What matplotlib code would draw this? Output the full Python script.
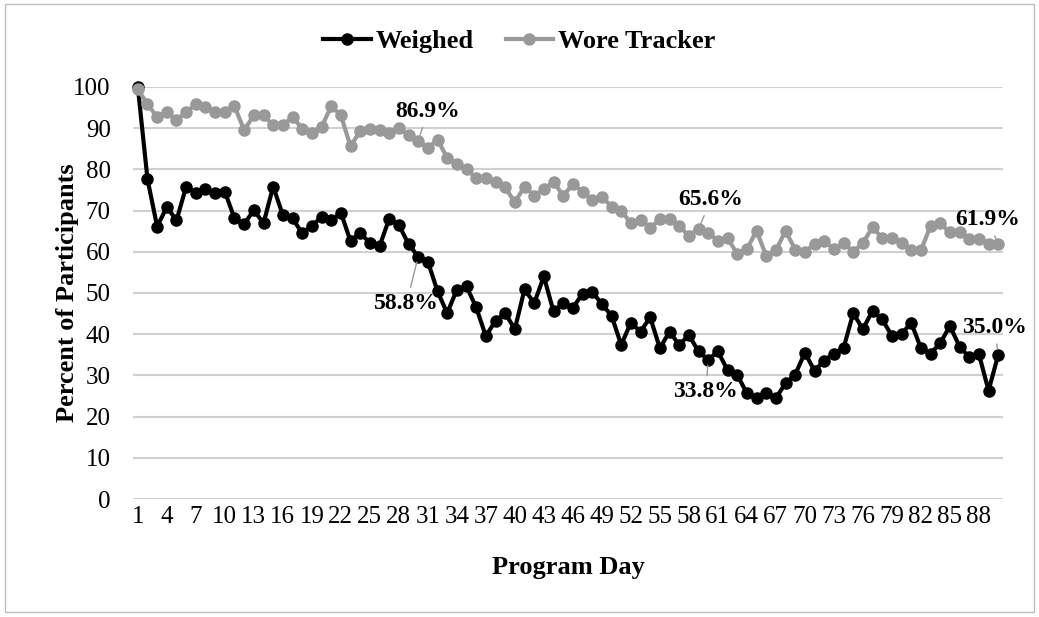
import matplotlib.pyplot as plt
from matplotlib.patches import Rectangle

plt.rcParams['font.family'] = ['Liberation Serif', 'DejaVu Serif']

# Program days 1..90
days = list(range(1, 91))

weighed = [
    100.0, 77.6, 66.1, 70.9, 67.6, 75.8, 74.3, 75.2, 74.3, 74.6,
    68.1, 66.7, 70.1, 66.9, 75.8, 68.9, 68.1, 64.5, 66.3, 68.4,
    67.6, 69.5, 62.6, 64.6, 62.1, 61.3, 68.0, 66.5, 61.9, 58.8,
    57.6, 50.4, 45.1, 50.8, 51.6, 46.5, 39.5, 43.3, 45.1, 41.2,
    50.9, 47.5, 54.0, 45.5, 47.5, 46.4, 49.8, 50.3, 47.3, 44.5,
    37.4, 42.8, 40.6, 44.1, 36.6, 40.6, 37.4, 39.8, 35.8, 33.8,
    35.8, 31.3, 30.1, 25.7, 24.5, 25.8, 24.5, 28.1, 30.2, 35.5,
    31.1, 33.6, 35.3, 36.6, 45.1, 41.2, 45.7, 43.6, 39.6, 40.0,
    42.8, 36.6, 35.3, 37.8, 42.0, 37.0, 34.4, 35.2, 26.3, 35.0,
]

tracker = [
    99.4, 95.8, 92.7, 93.9, 91.9, 93.9, 95.8, 95.2, 93.9, 93.9,
    95.3, 89.5, 93.1, 93.1, 90.7, 90.7, 92.7, 89.9, 88.9, 90.2,
    95.3, 93.1, 85.6, 89.3, 89.9, 89.5, 88.9, 90.1, 88.3, 86.9,
    85.1, 87.2, 82.8, 81.4, 80.1, 77.8, 78.0, 76.8, 75.6, 72.0,
    75.8, 73.6, 75.2, 77.0, 73.6, 76.4, 74.6, 72.6, 73.4, 70.9,
    70.0, 66.9, 67.7, 65.7, 67.9, 67.9, 66.3, 63.8, 65.6, 64.6,
    62.7, 63.3, 59.5, 60.6, 65.1, 59.0, 60.3, 65.1, 60.5, 60.0,
    61.9, 62.7, 60.6, 62.1, 60.0, 62.1, 66.0, 63.3, 63.3, 62.2,
    60.3, 60.3, 66.3, 66.9, 64.7, 64.9, 63.0, 63.0, 61.8, 61.9,
]

tick_days = list(range(1, 89, 3))

# labelled points: (day, label y, label x)
notes_tracker = [(30, 94.0, 31.0), (59, 72.6, 60.3), (90, 67.7, 88.9)]
notes_weighed = [(30, 47.5, 28.8), (60, 26.0, 59.75), (90, 41.5, 89.6)]

fig = plt.figure(figsize=(10.39, 6.17), dpi=100)
ax = fig.add_axes([0.128, 0.1912, 0.8374, 0.668])

fig.patches.append(Rectangle((0.005, 0.008), 0.99, 0.985, transform=fig.transFigure,
                             fill=False, edgecolor='#bfbfbf', linewidth=1))

ax.plot(days, weighed, color='black', linewidth=3, marker='o', markersize=8,
        label='Weighed', clip_on=False, zorder=3)
ax.plot(days, tracker, color='#999999', linewidth=3, marker='o', markersize=8,
        label='Wore Tracker', clip_on=False, zorder=4)

ax.set_xlim(0.5, 90.5)
ax.set_ylim(0, 100)
ax.set_yticks(range(0, 101, 10))
ax.set_xticks(tick_days)
ax.set_xticklabels([str(d) for d in tick_days])
ax.tick_params(axis='both', length=0, labelsize=18)
ax.tick_params(axis='y', pad=16)
ax.tick_params(axis='x', pad=5)
ax.grid(axis='y', color='#d0d0d0', linewidth=1.5)
ax.set_axisbelow(True)
for s in ax.spines.values():
    s.set_visible(False)

ax.set_xlabel('Program Day', fontsize=19, fontweight='bold', va='top')
ax.xaxis.set_label_coords(0.5, -0.138)
ax.set_ylabel('Percent of Participants', fontsize=19, fontweight='bold')
ax.yaxis.set_label_coords(-0.062, 0.5)

for series, notes in ((tracker, notes_tracker), (weighed, notes_weighed)):
    for d, ty, tx in notes:
        v = series[d - 1]
        ax.annotate(f'{v:.1f}%', xy=(d, v), xytext=(tx, ty), ha='center', va='center',
                    fontsize=17, fontweight='bold', annotation_clip=False,
                    arrowprops=dict(arrowstyle='-', color='#999999', lw=1,
                                    shrinkA=2, shrinkB=4), zorder=6)

fig.legend(loc='upper center', bbox_to_anchor=(0.5, 0.99), ncol=2, frameon=False,
           prop={'size': 19, 'weight': 'bold'}, handlelength=1.8, columnspacing=1.2,
           handletextpad=0.2)

fig.savefig('out.png', dpi=100)
